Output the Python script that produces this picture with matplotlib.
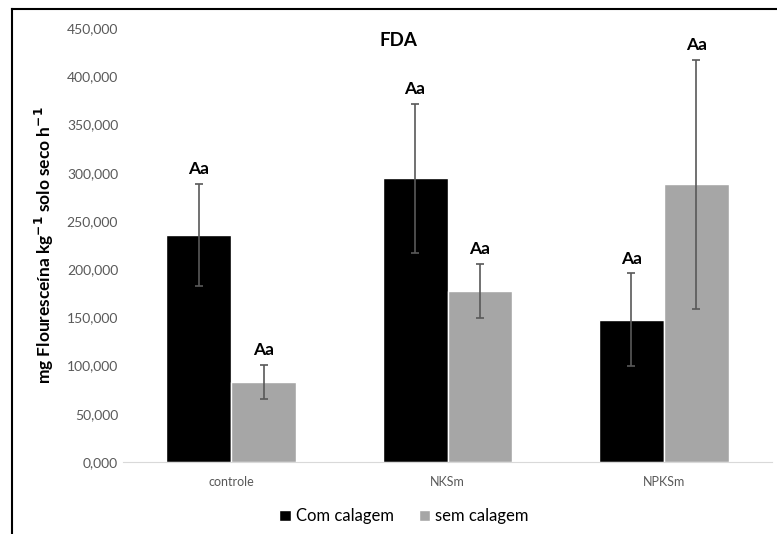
import numpy as np
import matplotlib
matplotlib.use('Agg')
import matplotlib.pyplot as plt
from matplotlib.lines import Line2D
from matplotlib.ticker import FuncFormatter

plt.rcParams['font.family'] = ['Lato', 'DejaVu Sans']

# data
categories = ['controle', 'NKSm', 'NPKSm']
com_calagem = [235500, 294000, 147500]
com_err = [53000, 77000, 48000]
sem_calagem = [83000, 177500, 288000]
sem_err = [18000, 28000, 129000]
letters_com = ['Aa', 'Aa', 'Aa']
letters_sem = ['Aa', 'Aa', 'Aa']

fig = plt.figure(figsize=(7.77, 5.34), dpi=100)
ax = fig.add_axes([0.1583, 0.1348, 0.8353, 0.8128])

x = np.arange(len(categories))
w = 0.3
err_kw = dict(ecolor='#595959', elinewidth=1.2, capsize=3, capthick=1.2)
ax.bar(x - w / 2, com_calagem, w, color='black', edgecolor='white', linewidth=1,
       yerr=com_err, error_kw=err_kw, label='Com calagem')
ax.bar(x + w / 2, sem_calagem, w, color='#a6a6a6', edgecolor='white', linewidth=1,
       yerr=sem_err, error_kw=err_kw, label='sem calagem')

for xi, v, e, t in zip(x - w / 2, com_calagem, com_err, letters_com):
    ax.text(xi, v + e + 7000, t, ha='center', va='bottom', fontsize=12.5, fontweight='bold')
for xi, v, e, t in zip(x + w / 2, sem_calagem, sem_err, letters_sem):
    ax.text(xi, v + e + 7000, t, ha='center', va='bottom', fontsize=12.5, fontweight='bold')

ax.set_xlim(-0.5, 2.5)
ax.set_ylim(0, 450000)
ax.set_yticks(np.arange(0, 450001, 50000))
ax.yaxis.set_major_formatter(FuncFormatter(lambda v, p: f'{int(v / 1000)},000'))
ax.set_xticks(x)
ax.set_xticklabels(categories)
ax.tick_params(axis='both', length=0, colors='#595959', labelsize=10)
ax.tick_params(axis='x', pad=10, labelsize=9)
for s in ['top', 'right', 'left']:
    ax.spines[s].set_visible(False)
ax.spines['bottom'].set_color('#d9d9d9')

ax.set_ylabel('mg Flouresceína kg$^{\\mathbf{-1}}$ solo seco h$^{\\mathbf{-1}}$',
              fontsize=12.5, fontweight='bold', labelpad=8)
ax.text(0.424, 0.972, 'FDA', transform=ax.transAxes, ha='center', va='center',
        fontsize=13.5, fontweight='bold')

ax.legend(loc='center', bbox_to_anchor=(0.433, -0.125), ncol=2, frameon=False,
          fontsize=12, handlelength=0.7, handleheight=0.7, handletextpad=0.3,
          columnspacing=1.5)

# outer frame (left and top edges visible)
fig.add_artist(Line2D([0.0154, 0.0154], [0, 0.983], color='black', lw=1.5,
                      transform=fig.transFigure))
fig.add_artist(Line2D([0.0154, 1], [0.983, 0.983], color='black', lw=1.5,
                      transform=fig.transFigure))

fig.savefig('out.png', dpi=100)
